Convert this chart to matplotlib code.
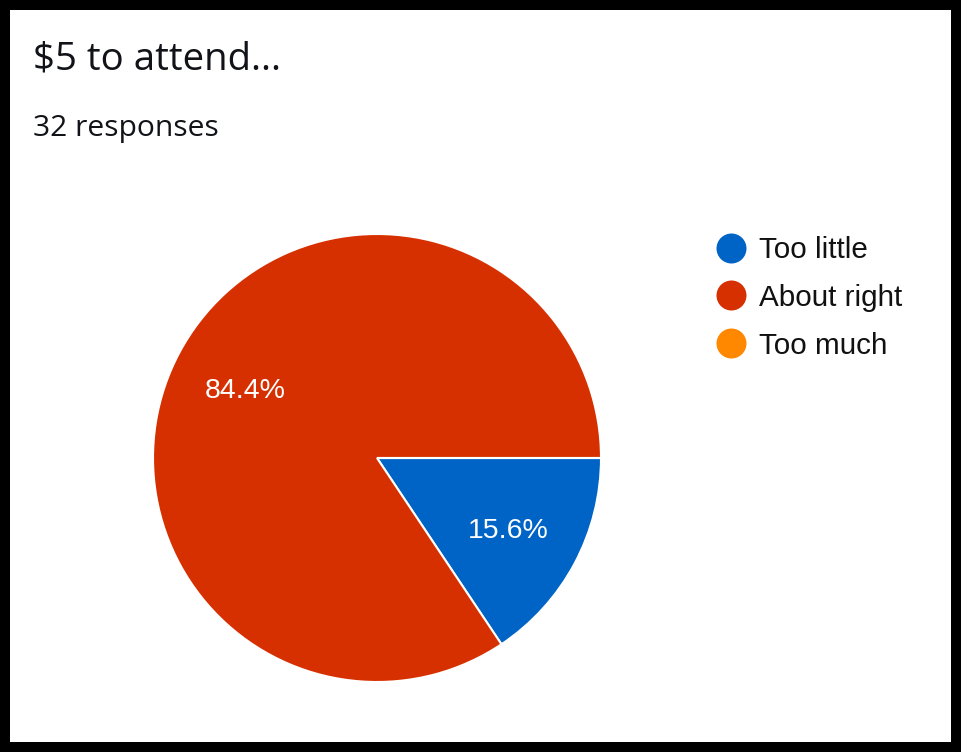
import matplotlib.pyplot as plt
from matplotlib.patches import Rectangle
from matplotlib.lines import Line2D

title = "$5 to attend..."
subtitle = "32 responses"
labels = ["Too little", "About right", "Too much"]
counts = [5, 27, 0]
colors = ["#0063C6", "#D73000", "#FF8800"]

W, H = 961, 752
fig = plt.figure(figsize=(W / 100, H / 100), dpi=100)
fig.patch.set_facecolor("black")
# white card inside the black frame
fig.patches.append(Rectangle((10 / W, 10 / H), 941 / W, 732 / H,
                             transform=fig.transFigure, facecolor="white",
                             edgecolor="none", zorder=-5))

fig.text(33 / W, 1 - 69 / H, title, fontsize=27.6, family="Open Sans",
         color="#111318", va="baseline", ha="left")
fig.text(33 / W, 1 - 136 / H, subtitle, fontsize=21.6, family="Open Sans",
         color="#111318", va="baseline", ha="left")

# pie centre (377, 458), radius 224 px
cx, cy, r = 377, 458, 224
ax = fig.add_axes([(cx - r) / W, 1 - (cy + r) / H, 2 * r / W, 2 * r / H])
ax.set_zorder(2)
wedges, texts, autotexts = ax.pie(
    counts, colors=colors, startangle=0, counterclock=False,
    autopct=lambda p: f"{p:.1f}%" if p > 0 else "",
    pctdistance=0.665, radius=1,
    wedgeprops=dict(edgecolor="white", linewidth=1.5),
    textprops=dict(color="white", fontsize=20.5, family="Liberation Sans"))
for t in autotexts:
    t.set_va("center_baseline")
ax.set_xlim(-1, 1)
ax.set_ylim(-1, 1)
ax.set_aspect("equal")
ax.axis("off")

handles = [Line2D([], [], marker="o", linestyle="none", markersize=21.6,
                  markerfacecolor=c, markeredgecolor="none") for c in colors]
fig.legend(handles, labels, loc="upper left",
           bbox_to_anchor=(716 / W, 1 - 236 / H),
           frameon=False, borderpad=0, borderaxespad=0,
           handlelength=1.0, handletextpad=0.47, labelspacing=0.67,
           prop=dict(family="Liberation Sans", size=21.3), labelcolor="#111111")

fig.savefig("out.png", dpi=100, facecolor=fig.get_facecolor())
